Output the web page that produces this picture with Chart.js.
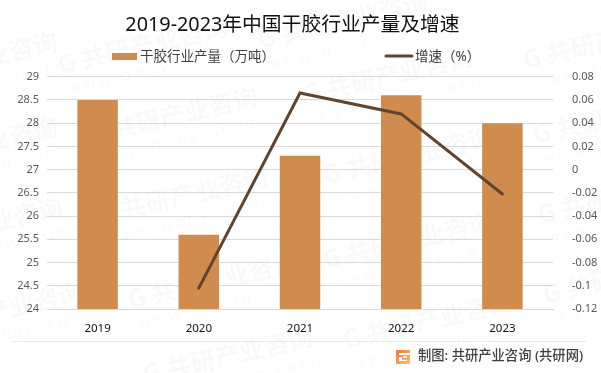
<!DOCTYPE html>
<html>
<head>
<meta charset="utf-8">
<style>
  html, body { margin: 0; padding: 0; background: #fff; }
  #wrap { position: relative; width: 601px; height: 373px; }
</style>
<script src="https://cdn.jsdelivr.net/npm/chart.js@4/dist/chart.umd.min.js"></script>
</head>
<body>
<div id="wrap"><canvas id="chart" width="601" height="373"></canvas></div>
<script>
var categories = ['2019', '2020', '2021', '2022', '2023'];
var outputValues = [28.5, 25.6, 27.3, 28.6, 28.0];
var growthValues = [null, -0.102, 0.066, 0.048, -0.021];
var outputLabel = '干胶行业产量（万吨）';
var growthLabel = '增速（%）';
var titleText = '2019-2023年中国干胶行业产量及增速';
var sourceText = '制图: 共研产业咨询 (共研网)';

var FONT = "'Noto Sans', 'Noto Sans CJK SC', sans-serif";
var BAR_COLOR = '#d08c4f';
var LINE_COLOR = '#5f4530';
var GRID_COLOR = '#d9d9d9';

// background watermark stamps, centre of each one
var stamps = [
  [145, 55], [345, 30], [610, 50], [-25, 70],
  [175, 125], [390, 85], [-25, 155], [620, 125],
  [185, 205], [410, 165], [-20, 235], [625, 205],
  [215, 290], [410, 250], [0, 320], [630, 285],
  [230, 365], [430, 330]
];

var decor = {
  id: 'decor',
  beforeDraw: function(chart) {
    var ctx = chart.ctx;
    ctx.save();
    ctx.fillStyle = '#fff';
    ctx.fillRect(0, 0, chart.width, chart.height);
    ctx.textAlign = 'center';
    ctx.textBaseline = 'middle';
    stamps.forEach(function(s) {
      ctx.save();
      ctx.translate(s[0], s[1]);
      ctx.rotate(-13 * Math.PI / 180);
      ctx.fillStyle = 'rgba(0,0,0,0.024)';
      ctx.font = "bold 25px 'Noto Sans CJK SC'";
      ctx.fillText('G 共研产业咨询', 0, -10);
      ctx.font = "15px 'Noto Sans'";
      ctx.fillText('w w w . g o n y n . c o m', 0, 16);
      ctx.restore();
    });
    ctx.restore();
  },
  afterLayout: function(chart) {
    // the title sits a little left of the canvas centre
    chart.titleBlock.right = chart.titleBlock.left + 585;
  },
  afterDraw: function(chart) {
    var ctx = chart.ctx;
    ctx.save();
    // legend
    ctx.font = '13.5px ' + FONT;
    ctx.textAlign = 'left';
    ctx.textBaseline = 'middle';
    ctx.fillStyle = BAR_COLOR;
    ctx.fillRect(112, 53, 25, 7);
    ctx.fillStyle = '#404040';
    ctx.fillText(outputLabel, 140, 57);
    ctx.strokeStyle = LINE_COLOR;
    ctx.lineWidth = 3;
    ctx.lineCap = 'round';
    ctx.beginPath();
    ctx.moveTo(386, 56);
    ctx.lineTo(412, 56);
    ctx.stroke();
    ctx.fillText(growthLabel, 415, 57);
    // footer
    ctx.strokeStyle = '#e8e8e8';
    ctx.lineWidth = 1;
    ctx.beginPath();
    ctx.moveTo(13, 341.5);
    ctx.lineTo(586, 341.5);
    ctx.stroke();
    var grad = ctx.createLinearGradient(396, 350, 410, 364);
    grad.addColorStop(0, '#f0773a');
    grad.addColorStop(1, '#f9c56c');
    ctx.fillStyle = grad;
    ctx.fillRect(396, 350, 14, 14);
    ctx.fillStyle = '#fff';
    ctx.fillRect(399, 353, 11, 2);
    ctx.fillRect(399, 357, 3, 4);
    ctx.fillRect(403, 356, 4, 2);
    ctx.fillRect(399, 360, 8, 1);
    ctx.fillStyle = '#404040';
    ctx.font = '500 13.3px ' + FONT;
    ctx.fillText(sourceText, 418, 356);
    ctx.restore();
  }
};

new Chart(document.getElementById('chart'), {
  type: 'bar',
  plugins: [decor],
  data: {
    labels: categories,
    datasets: [
      {
        type: 'line',
        label: growthLabel,
        data: growthValues,
        yAxisID: 'y1',
        borderColor: LINE_COLOR,
        borderWidth: 3,
        borderCapStyle: 'round',
        pointRadius: 0,
        tension: 0,
        spanGaps: false,
        order: 0
      },
      {
        type: 'bar',
        label: outputLabel,
        data: outputValues,
        yAxisID: 'y',
        backgroundColor: BAR_COLOR,
        categoryPercentage: 1,
        barPercentage: 0.4,
        order: 1
      }
    ]
  },
  options: {
    responsive: false,
    animation: false,
    plugins: {
      legend: { display: false },
      tooltip: { enabled: false },
      title: {
        display: true,
        text: titleText,
        color: '#111',
        font: { family: FONT, size: 19.8, weight: 'normal', lineHeight: 1.2 },
        padding: { top: 13, bottom: 40 }
      }
    },
    scales: {
      x: {
        grid: { display: false },
        border: { color: GRID_COLOR },
        ticks: { color: '#111', padding: 5, maxRotation: 0, font: { family: FONT, size: 11.5 } },
        afterFit: function(axis) { axis.height = 64; }
      },
      y: {
        position: 'left',
        min: 24,
        max: 29,
        grid: { color: GRID_COLOR, drawTicks: false },
        border: { display: false },
        ticks: {
          stepSize: 0.5,
          color: '#595959',
          padding: 8,
          font: { family: FONT, size: 11 },
          callback: function(v) { return String(v); }
        },
        afterFit: function(axis) { axis.width = 47; }
      },
      y1: {
        position: 'right',
        min: -0.12,
        max: 0.08,
        grid: { display: false },
        border: { display: false },
        ticks: {
          stepSize: 0.02,
          color: '#595959',
          padding: 11,
          font: { family: FONT, size: 11 },
          callback: function(v) { return String(+v.toFixed(2)); }
        },
        afterFit: function(axis) { axis.width = 48; }
      }
    }
  }
});
</script>
</body>
</html>
